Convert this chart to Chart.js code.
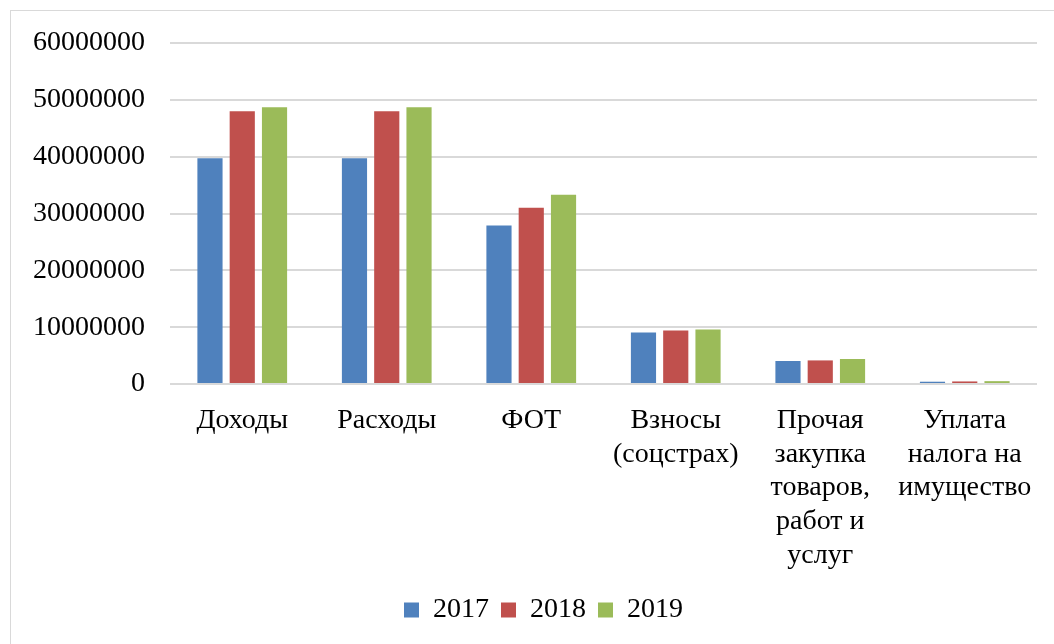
<!DOCTYPE html>
<html lang="ru">
<head>
    <meta charset="UTF-8">
    <title>Доходы и расходы 2017-2019</title>
    <script src="https://cdn.jsdelivr.net/npm/chart.js@4.4.0/dist/chart.umd.min.js"></script>
    <style>
        html, body {
            margin: 0;
            padding: 0;
            background: #fff;
            overflow: hidden;
        }
        .frame {
            position: absolute;
            left: 10px;
            top: 10px;
            width: 1100px;
            height: 700px;
            border: 1px solid #d9d9d9;
        }
        .chart-container {
            position: absolute;
            left: 0;
            top: 0;
            width: 1054px;
            height: 644px;
        }
    </style>
</head>
<body>
    <div class="frame"></div>
    <div class="chart-container">
        <canvas id="chart"></canvas>
    </div>
    <script>
        const categories = [
            'Доходы',
            'Расходы',
            'ФОТ',
            ['Взносы', '(соцстрах)'],
            ['Прочая', 'закупка', 'товаров,', 'работ и', 'услуг'],
            ['Уплата', 'налога на', 'имущество']
        ];
        const years = ['2017', '2018', '2019'];
        const values2017 = [39700000, 39700000, 27900000, 9050000, 4050000, 400000];
        const values2018 = [48000000, 48000000, 31000000, 9400000, 4150000, 450000];
        const values2019 = [48700000, 48700000, 33300000, 9600000, 4400000, 500000];
        const yTicks = { min: 0, max: 60000000, step: 10000000 };

        const family = '"Liberation Serif", "Times New Roman", serif';

        // the original legend sits a bit right of the canvas centre
        const legendShift = {
            id: 'legendShift',
            afterLayout(chart) {
                chart.legend.left += 20;
                chart.legend.right += 20;
            }
        };

        new Chart(document.getElementById('chart'), {
            type: 'bar',
            data: {
                labels: categories,
                datasets: [{
                    label: years[0],
                    data: values2017,
                    backgroundColor: '#4F81BD'
                }, {
                    label: years[1],
                    data: values2018,
                    backgroundColor: '#C0504D'
                }, {
                    label: years[2],
                    data: values2019,
                    backgroundColor: '#9BBB59'
                }]
            },
            options: {
                responsive: true,
                maintainAspectRatio: false,
                animation: false,
                categoryPercentage: 0.67,
                barPercentage: 0.78,
                layout: {
                    padding: { left: 10, right: 17, top: 43, bottom: 10 }
                },
                plugins: {
                    tooltip: { enabled: false },
                    legend: {
                        position: 'bottom',
                        labels: {
                            font: { family: family, size: 28 },
                            color: '#000',
                            boxWidth: 15,
                            boxHeight: 15,
                            padding: 12
                        }
                    }
                },
                scales: {
                    x: {
                        grid: { display: false },
                        border: { display: false },
                        ticks: {
                            font: { family: family, size: 28, lineHeight: 1.2 },
                            color: '#000',
                            maxRotation: 0,
                            autoSkip: false,
                            padding: 12
                        },
                        afterFit: scale => { scale.height = 200; }
                    },
                    y: {
                        min: yTicks.min,
                        max: yTicks.max,
                        grid: { color: '#d9d9d9', lineWidth: 2, drawTicks: false },
                        border: { display: false },
                        ticks: {
                            stepSize: yTicks.step,
                            font: { family: family, size: 28 },
                            color: '#000',
                            padding: 25,
                            callback: v => String(v)
                        },
                        afterFit: scale => { scale.width = 160; }
                    }
                }
            },
            plugins: [legendShift]
        });
    </script>
</body>
</html>
